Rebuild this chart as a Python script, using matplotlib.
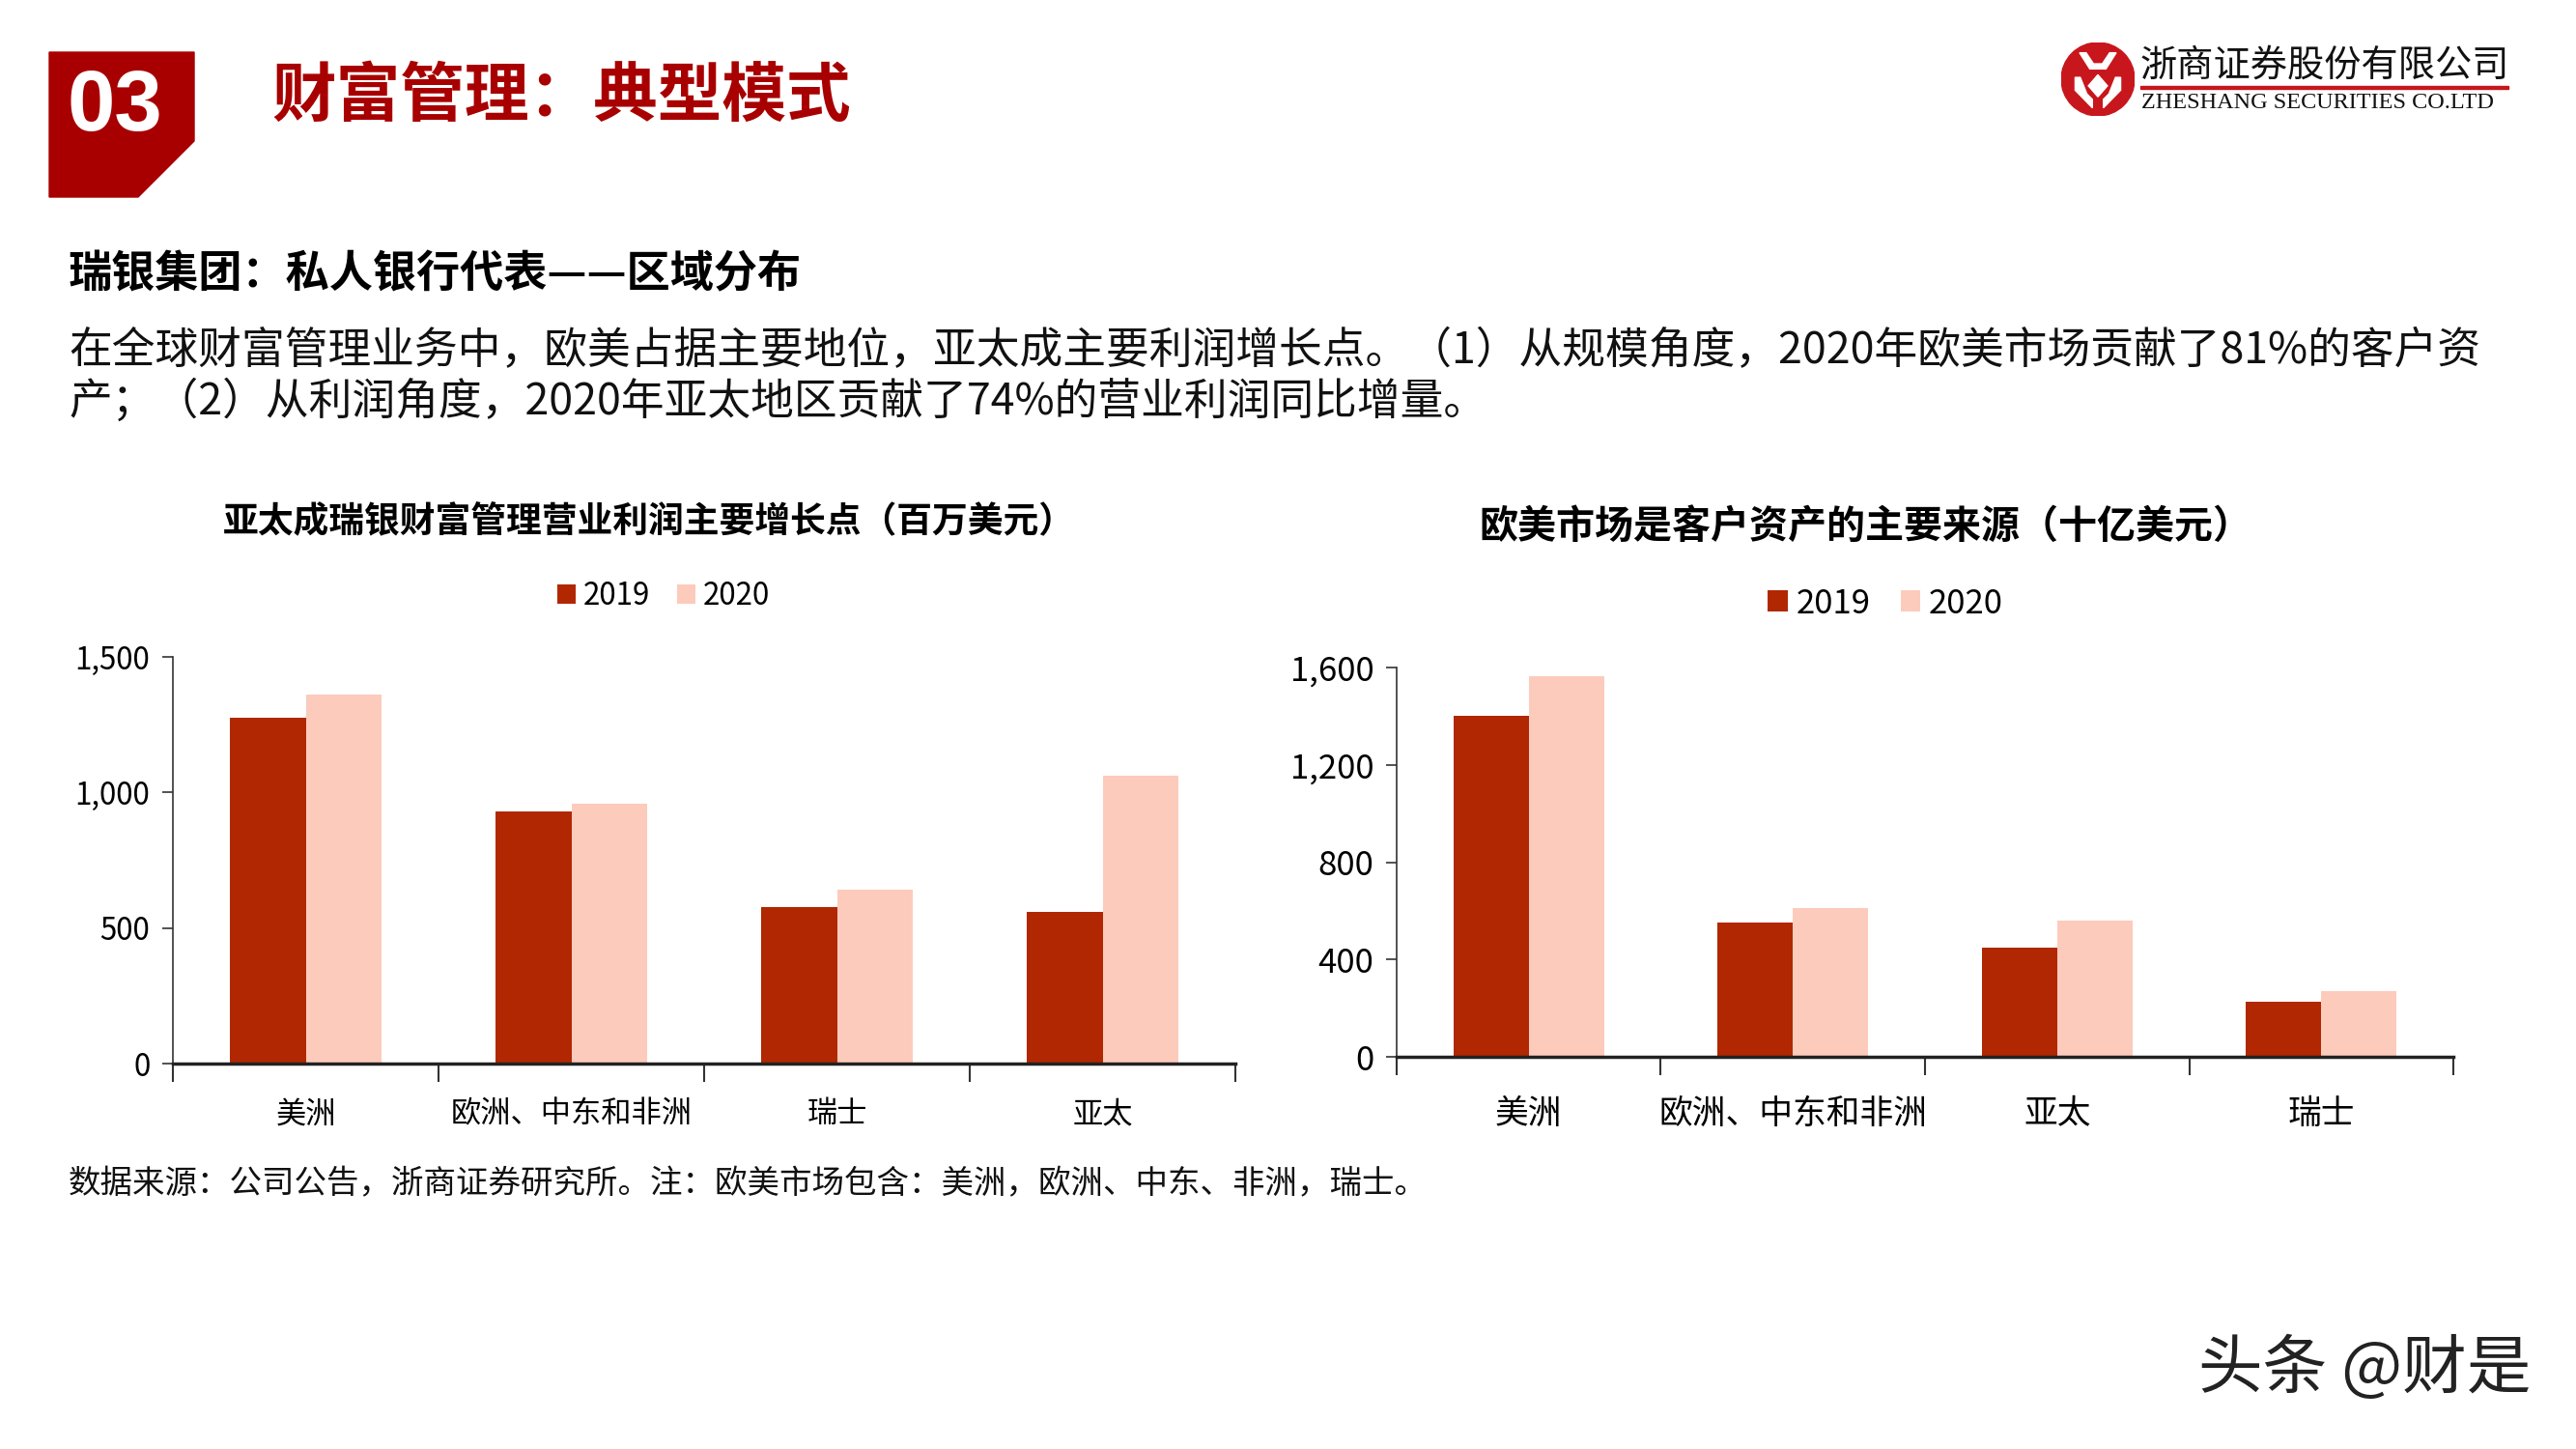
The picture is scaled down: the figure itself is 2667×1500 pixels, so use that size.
import numpy as np
import matplotlib
matplotlib.use("Agg")
import matplotlib.pyplot as plt
from matplotlib.patches import Polygon, Circle, Rectangle

plt.rcParams['font.family'] = ['Noto Sans CJK SC', 'DejaVu Sans']

# data
profit_cats = ['美洲', '欧洲、中东和非洲', '瑞士', '亚太']
profit_2019 = [1275, 931, 577, 560]
profit_2020 = [1361, 958, 641, 1061]
profit_ticks = [0, 500, 1000, 1500]

asset_cats = ['美洲', '欧洲、中东和非洲', '亚太', '瑞士']
asset_2019 = [1401, 551, 447, 226]
asset_2020 = [1564, 611, 559, 271]
asset_ticks = [0, 400, 800, 1200, 1600]

years = ['2019', '2020']
c2019 = '#B12702'
c2020 = '#FCCBBC'
red = '#A80000'

W, H = 2667, 1500
fig = plt.figure(figsize=(W / 100, H / 100), dpi=100)


def fx(px):
    return px / W


def fy(py):
    return 1 - py / H


# header block
pts = [(51, 54), (201, 54), (201, 146), (143, 204), (51, 204)]
fig.patches.append(Polygon([(fx(a), fy(b)) for a, b in pts], closed=True,
                           transform=fig.transFigure, color=red, zorder=1))
fig.text(fx(119), fy(112), '03', color='white', fontsize=64, fontweight='bold',
         family=['Liberation Sans', 'DejaVu Sans'], ha='center', va='center')
fig.text(fx(281), fy(100), '财富管理：典型模式', color=red, fontsize=48,
         fontweight='bold', ha='left', va='center')

# logo
lax = fig.add_axes([fx(2134), fy(120), 76 / W, 76 / H])
lax.set_xlim(-1, 1)
lax.set_ylim(-1, 1)
lax.set_aspect('equal')
lax.axis('off')
lax.add_patch(Circle((0, 0), 1, color='#C8161D'))
lax.add_patch(Polygon([(-0.5, 0.72), (-0.32, 0.72), (-0.12, 0.42), (0.12, 0.42),
                       (0.32, 0.72), (0.5, 0.72), (0.22, 0.28), (-0.22, 0.28)],
                      closed=True, color='white'))
lax.add_patch(Polygon([(0, 0.12), (0.26, -0.18), (0, -0.48), (-0.26, -0.18)],
                      closed=True, color='white'))
lax.add_patch(Polygon([(-0.62, 0.05), (-0.48, 0.05), (-0.3, -0.4), (-0.15, -0.55),
                       (-0.15, -0.78), (-0.62, -0.3)], closed=True, color='white'))
lax.add_patch(Polygon([(0.62, 0.05), (0.48, 0.05), (0.3, -0.4), (0.15, -0.55),
                       (0.15, -0.78), (0.62, -0.3)], closed=True, color='white'))
fig.text(fx(2216), fy(68), '浙商证券股份有限公司', fontsize=27.5, color='#111111',
         ha='left', va='center')
fig.patches.append(Rectangle((fx(2216), fy(92)), fx(381), 3 / H,
                             transform=fig.transFigure, color='#C8161D'))
fig.text(fx(2217), fy(107), 'ZHESHANG SECURITIES CO.LTD', fontsize=17.5,
         family=['Liberation Serif', 'DejaVu Serif'], color='#111111',
         ha='left', va='center')

# subtitle and body
fig.text(fx(71), fy(284), '瑞银集团：私人银行代表——区域分布', fontsize=32.5,
         fontweight='bold', ha='left', va='center')
fig.text(fx(71), fy(363),
         '在全球财富管理业务中，欧美占据主要地位，亚太成主要利润增长点。（1）从规模角度，2020年欧美市场贡献了81%的客户资',
         fontsize=32.2, ha='left', va='center', color='#111111')
fig.text(fx(71), fy(416),
         '产；（2）从利润角度，2020年亚太地区贡献了74%的营业利润同比增量。',
         fontsize=32.2, ha='left', va='center', color='#111111')


def bar_chart(rect, cats, v19, v20, ticks, title, title_xy, title_fs,
              leg_xy, fs, xpad):
    ax = fig.add_axes(rect)
    x = np.arange(len(cats))
    w = 0.285
    ax.bar(x - w / 2, v19, w, color=c2019, label=years[0])
    ax.bar(x + w / 2, v20, w, color=c2020, label=years[1])
    ax.set_xlim(-0.5, len(cats) - 0.5)
    ax.set_ylim(ticks[0], ticks[-1])
    ax.set_yticks(ticks)
    ax.set_yticklabels([f'{t:,}' for t in ticks], fontsize=fs)
    ax.set_xticks(np.arange(len(cats) + 1) - 0.5)
    ax.set_xticklabels([])
    ax.set_xticks(x, minor=True)
    ax.set_xticklabels(cats, minor=True, fontsize=fs)
    ax.tick_params(axis='x', which='major', length=14, width=1.5, color='#333333')
    ax.tick_params(axis='x', which='minor', length=0, pad=xpad)
    ax.tick_params(axis='y', length=8, width=1.2, color='#333333', pad=9)
    for s in ['top', 'right']:
        ax.spines[s].set_visible(False)
    ax.spines['left'].set_color('#333333')
    ax.spines['left'].set_linewidth(1.2)
    ax.spines['bottom'].set_color('#222222')
    ax.spines['bottom'].set_linewidth(2.5)
    fig.text(fx(title_xy[0]), fy(title_xy[1]), title, fontsize=title_fs,
             fontweight='bold', ha='center', va='center')
    fig.legend(*ax.get_legend_handles_labels(), loc='center',
               bbox_to_anchor=(fx(leg_xy[0]), fy(leg_xy[1])), ncol=2,
               frameon=False, fontsize=fs, handlelength=0.6, handleheight=0.6,
               handletextpad=0.25, columnspacing=0.9)
    return ax


bar_chart([fx(179), fy(1101), fx(1279) - fx(179), fy(680) - fy(1101)],
          profit_cats, profit_2019, profit_2020, profit_ticks,
          '亚太成瑞银财富管理营业利润主要增长点（百万美元）', (672, 541), 26.5,
          (687, 617), 22.5, 26)
bar_chart([fx(1446), fy(1094), fx(2540) - fx(1446), fy(691) - fy(1094)],
          asset_cats, asset_2019, asset_2020, asset_ticks,
          '欧美市场是客户资产的主要来源（十亿美元）', (1931, 545), 28.8,
          (1952, 625), 25, 30)

fig.text(fx(71), fy(1226),
         '数据来源：公司公告，浙商证券研究所。注：欧美市场包含：美洲，欧洲、中东、非洲，瑞士。',
         fontsize=24.1, ha='left', va='center', color='#111111')

# watermark
fig.text(fx(2620), fy(1418), '头条 @财是', fontsize=48, color='#222222',
         ha='right', va='center')

fig.savefig('out.png', dpi=100)
